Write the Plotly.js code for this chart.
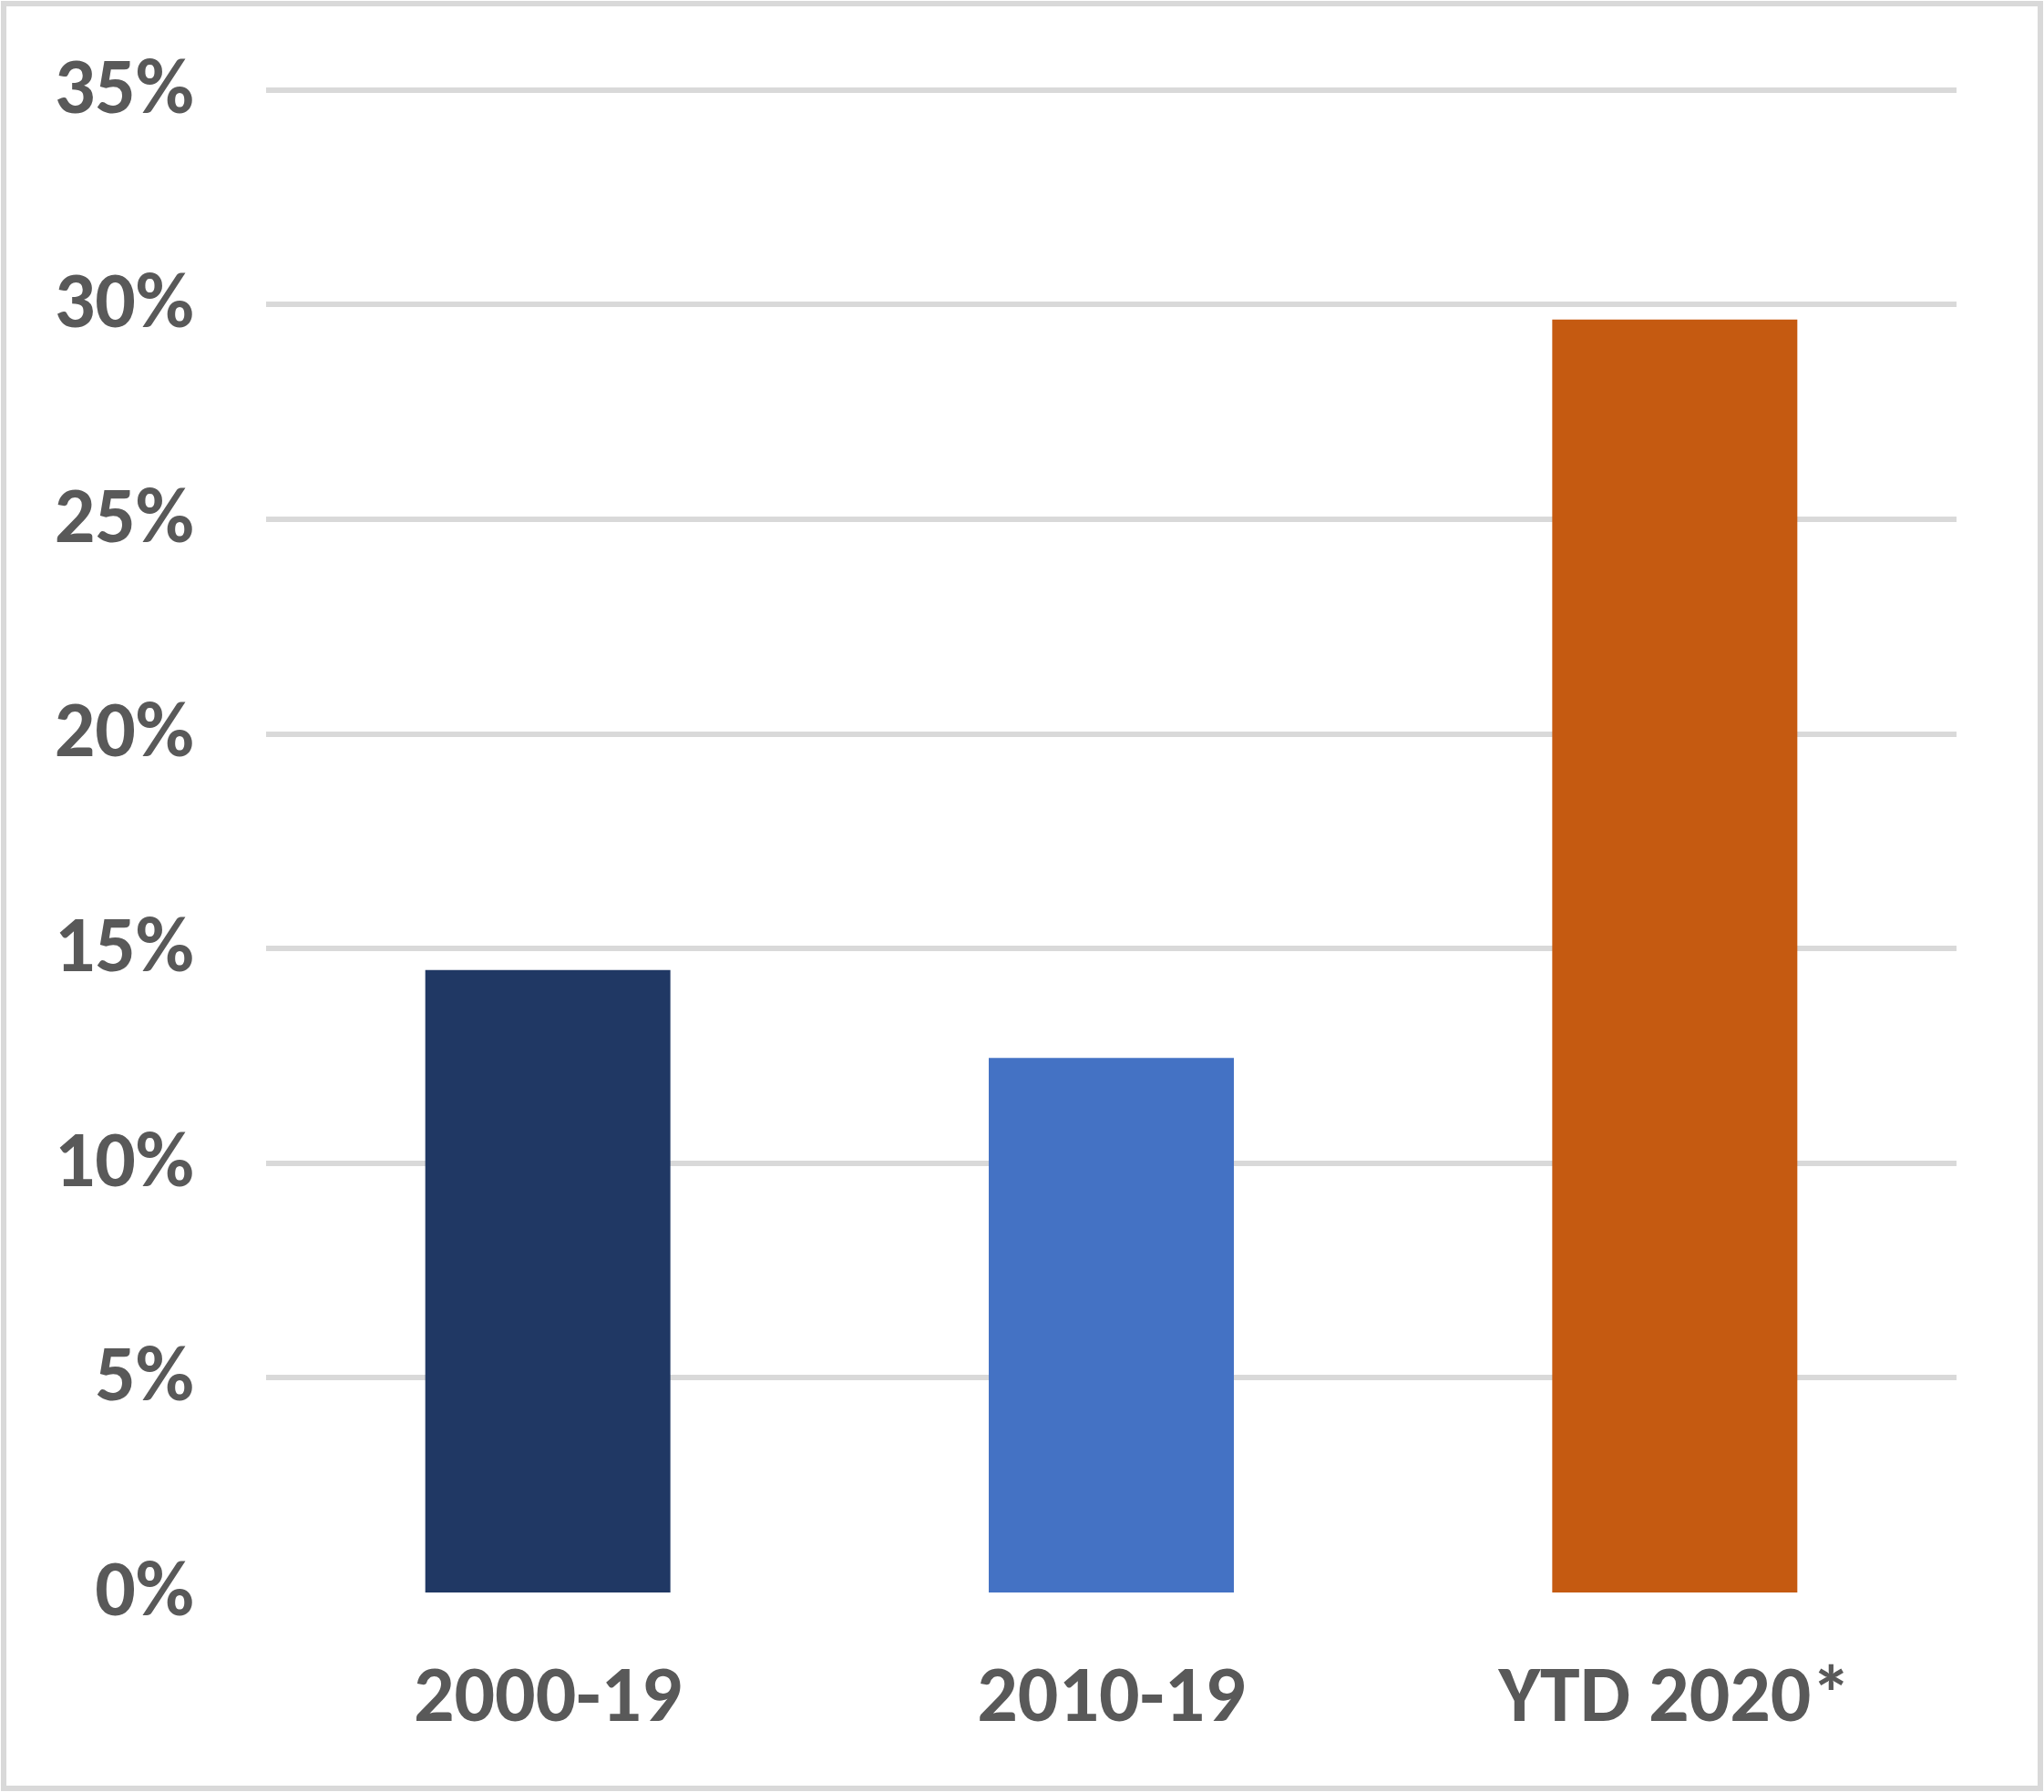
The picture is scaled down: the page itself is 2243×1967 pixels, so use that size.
<!DOCTYPE html>
<html>
<head>
<meta charset="utf-8">
<script src="https://cdn.plot.ly/plotly-3.0.1.min.js"></script>
<style>
html,body{margin:0;padding:0;background:#fff;}
#wrap{position:relative;width:2243px;height:1967px;}
#chart{position:absolute;left:0;top:0;width:2243px;height:1967px;}
#frame{position:absolute;left:1px;top:1px;width:2229px;height:1953px;border:6px solid #d9d9d9;pointer-events:none;}
</style>
</head>
<body>
<div id="wrap"><div id="chart"></div><div id="frame"></div></div>
<script>
const categories = ["2000-19", "2010-19", "YTD 2020*"];
const values = [14.5, 12.45, 29.65];
const barColors = ["#203864", "#4472C4", "#C55A11"];
const yTickVals = [0, 5, 10, 15, 20, 25, 30, 35];
const yTickText = ["0%", "5%", "10%", "15%", "20%", "25%", "30%", "35%"];

const fontFamily = "Carlito, Lato, 'Open Sans', sans-serif";

Plotly.newPlot("chart", [{
  type: "bar",
  x: categories,
  y: values,
  marker: {color: barColors, line: {width: 0}},
  hoverinfo: "none"
}], {
  width: 2243,
  height: 1967,
  margin: {l: 292, r: 96, t: 95, b: 219, pad: 0},
  paper_bgcolor: "#ffffff",
  plot_bgcolor: "#ffffff",
  bargap: 0.565,
  showlegend: false,
  font: {family: fontFamily, color: "#595959"},
  xaxis: {
    type: "category",
    showgrid: false,
    showline: false,
    zeroline: false,
    ticks: "",
    ticklabelstandoff: 52,
    tickfont: {family: fontFamily, size: 88, color: "#595959", weight: "bold"}
  },
  yaxis: {
    range: [0, 35.08],
    tickvals: yTickVals,
    ticktext: yTickText,
    showgrid: true,
    gridcolor: "#d9d9d9",
    gridwidth: 6,
    zeroline: false,
    showline: false,
    ticks: "",
    ticklabelstandoff: 78,
    ticklabelshift: -6,
    tickfont: {family: fontFamily, size: 88, color: "#595959", weight: "bold"}
  }
}, {staticPlot: true});
</script>
</body>
</html>
